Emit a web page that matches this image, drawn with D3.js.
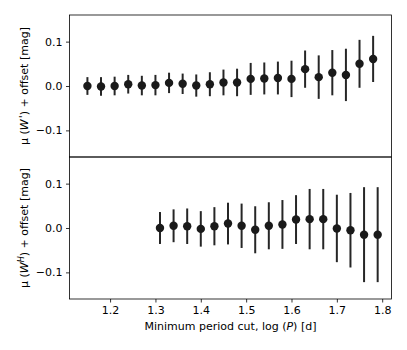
<!DOCTYPE html>
<html><head><meta charset="utf-8">
<script src="https://cdn.jsdelivr.net/npm/d3@7"></script>
<style>body{margin:0;background:#fff}</style>
</head><body>
<script>
// Data
const topX = [1.15,1.18,1.21,1.24,1.27,1.30,1.33,1.36,1.39,1.42,1.45,1.48,1.51,1.54,1.57,1.60,1.63,1.66,1.69,1.72,1.75,1.78];
const topY = [0.000,-0.001,0.000,0.004,0.001,0.002,0.007,0.005,0.001,0.004,0.008,0.008,0.016,0.017,0.018,0.016,0.038,0.020,0.030,0.025,0.050,0.061];
const topErr = [0.020,0.021,0.021,0.021,0.022,0.023,0.023,0.023,0.025,0.027,0.029,0.031,0.036,0.036,0.037,0.041,0.042,0.049,0.051,0.059,0.054,0.052];
const botX = [1.31,1.34,1.37,1.40,1.43,1.46,1.49,1.52,1.55,1.58,1.61,1.64,1.67,1.70,1.73,1.76,1.79];
const botY = [0.000,0.005,0.004,-0.002,0.004,0.010,0.005,-0.004,0.005,0.008,0.019,0.020,0.020,-0.001,-0.005,-0.015,-0.015];
const botErr = [0.036,0.037,0.040,0.040,0.043,0.047,0.050,0.053,0.053,0.055,0.055,0.068,0.068,0.076,0.084,0.107,0.107];
const xTicks = [1.2,1.3,1.4,1.5,1.6,1.7,1.8];
const yTicks = [-0.1,0.0,0.1];

const W = 407, H = 350;
const L = 69.5, R = 391.5, T1 = 15, B1 = 157, T2 = 157, B2 = 299;
const FS = "11px";
const svg = d3.select("body").append("svg").attr("width", W).attr("height", H)
  .style("font-family", "DejaVu Sans").style("font-size", FS);

const x = d3.scaleLinear().domain([1.1105, 1.8205]).range([L, R]);
const fmt = d => d3.format(".1f")(d).replace("-", "\u2212");

function panel(y0, y1, xs, ys, es, labelFn, showX) {
  const y = d3.scaleLinear().domain([-0.16, 0.16]).range([y1, y0]);
  const g = svg.append("g");
  g.selectAll("line.err").data(xs).join("line")
    .attr("x1", (d) => x(d)).attr("x2", (d) => x(d))
    .attr("y1", (d, i) => y(ys[i] - es[i])).attr("y2", (d, i) => y(ys[i] + es[i]))
    .attr("stroke", "#262626").attr("stroke-width", 2);
  g.selectAll("circle").data(xs).join("circle")
    .attr("cx", d => x(d)).attr("cy", (d, i) => y(ys[i])).attr("r", 4.2)
    .attr("fill", "#1a1a1a");
  const ya = svg.append("g").attr("transform", `translate(${L},0)`)
    .call(d3.axisLeft(y).tickValues(yTicks).tickFormat(fmt).tickSize(3.5).tickPadding(3.5));
  ya.select(".domain").remove();
  ya.selectAll("text").attr("fill", "#000").style("font-family", "DejaVu Sans").style("font-size", FS);
  ya.selectAll("line").attr("stroke", "#000").attr("stroke-width", 0.8);
  if (showX) {
    const xa = svg.append("g").attr("transform", `translate(0,${y1})`)
      .call(d3.axisBottom(x).tickValues(xTicks).tickFormat(d3.format(".1f")).tickSize(3.5).tickPadding(3.5));
    xa.select(".domain").remove();
    xa.selectAll("text").attr("fill", "#000").style("font-family", "DejaVu Sans").style("font-size", FS);
    xa.selectAll("line").attr("stroke", "#000").attr("stroke-width", 0.8);
  }
  svg.append("rect").attr("x", L).attr("y", y0).attr("width", R - L).attr("height", y1 - y0)
    .attr("fill", "none").attr("stroke", "#000").attr("stroke-width", 0.8);
  const t = svg.append("text").attr("transform", `translate(28,${(y0 + y1) / 2}) rotate(-90)`)
    .attr("text-anchor", "middle").attr("fill", "#000");
  labelFn(t);
}

panel(T1, B1, topX, topY, topErr, t => {
  t.append("tspan").text("\u03bc (");
  t.append("tspan").style("font-style", "italic").text("W");
  t.append("tspan").attr("dx", 1).attr("dy", -1).style("font-style", "normal").text("'");
  t.append("tspan").attr("dy", 1).text(") + offset [mag]");
}, false);

panel(T2, B2, botX, botY, botErr, t => {
  t.append("tspan").text("\u03bc (");
  t.append("tspan").style("font-style", "italic").text("W");
  t.append("tspan").attr("dy", -4).style("font-size", "8px").style("font-style", "italic").text("H");
  t.append("tspan").attr("dy", 4).text(") + offset [mag]");
}, true);

const xl = svg.append("text").attr("x", (L + R) / 2).attr("y", 330).attr("text-anchor", "middle").attr("fill", "#000");
xl.append("tspan").text("Minimum period cut, log (");
xl.append("tspan").style("font-style", "italic").text("P");
xl.append("tspan").text(") [d]");
</script>
</body></html>
